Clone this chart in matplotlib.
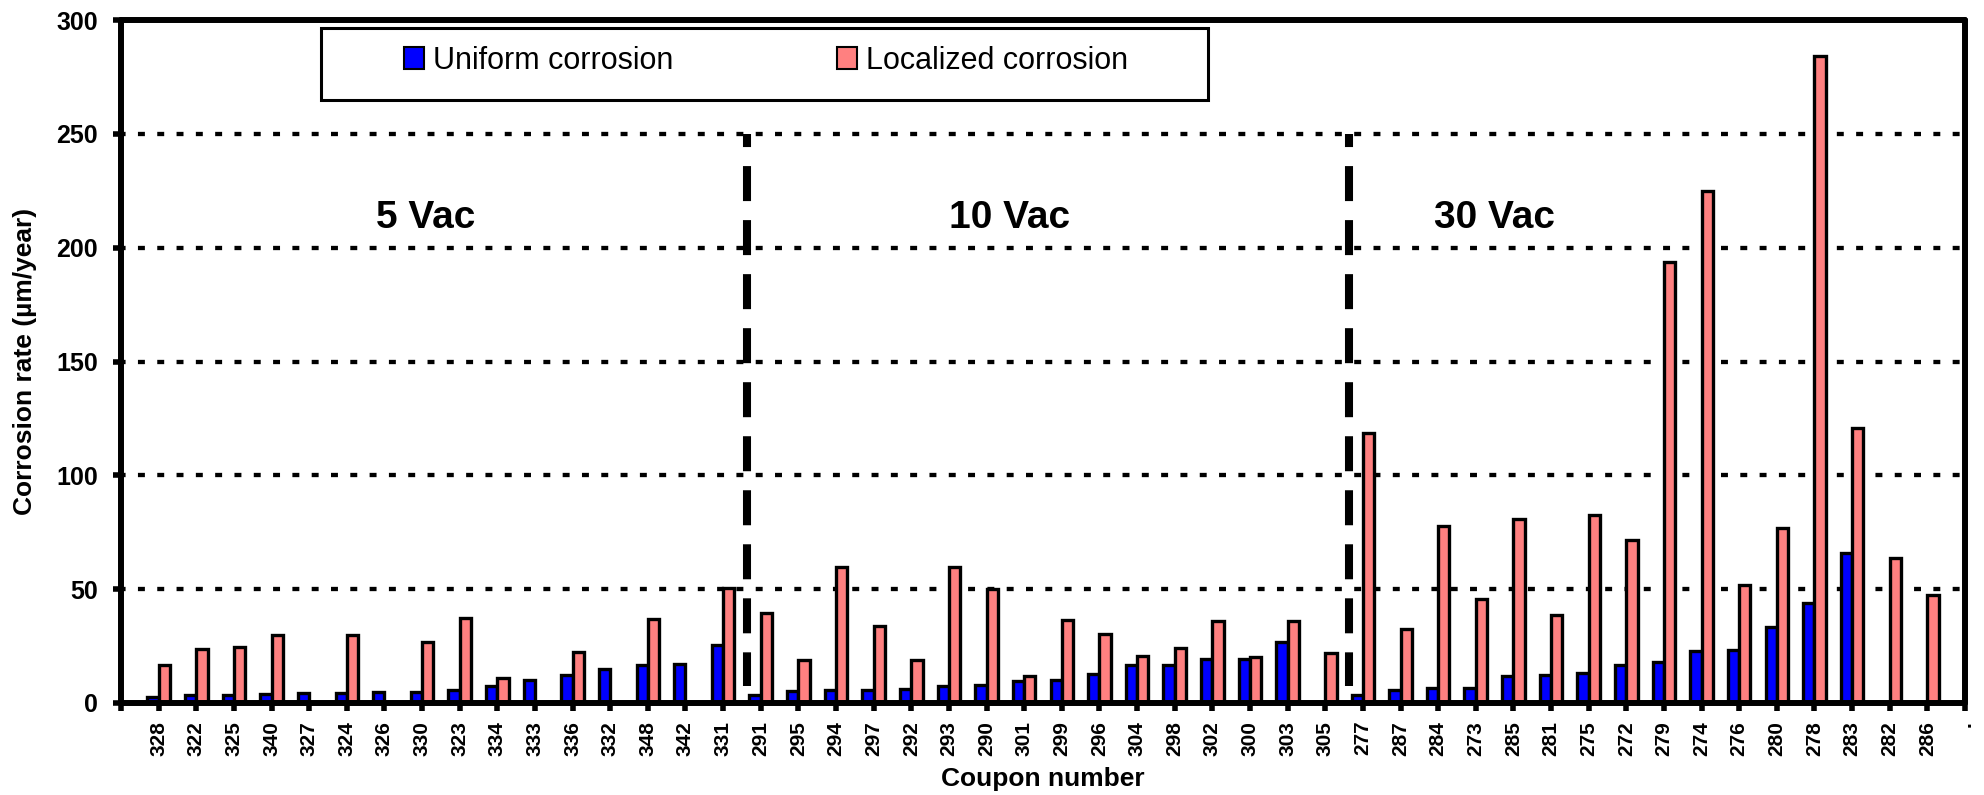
import numpy as np
import matplotlib
matplotlib.use("Agg")
import matplotlib.pyplot as plt
from matplotlib.patches import Rectangle, Patch

plt.rcParams["font.family"] = ["Liberation Sans", "DejaVu Sans"]
plt.rcParams["lines.scale_dashes"] = False

# Coupon numbers, grouped by applied AC voltage
coupons = [
    "328", "322", "325", "340", "327", "324", "326", "330",
    "323", "334", "333", "336", "332", "348", "342", "331",
    "291", "295", "294", "297", "292", "293", "290", "301",
    "299", "296", "304", "298", "302", "300", "303", "305",
    "277", "287", "284", "273", "285", "281", "275", "272",
    "279", "274", "276", "280", "278", "283", "282", "286",
]

nan = np.nan
# Corrosion rates in µm/year (nan = not measured)
uniform = [
    2.5, 3.5, 3.5, 4.0, 4.2, 4.5, 5.0, 5.0,
    5.5, 7.5, 10.3, 12.4, 15.0, 16.8, 17.2, 25.6,
    3.7, 5.3, 5.9, 5.9, 6.2, 7.3, 7.9, 9.5,
    10.0, 12.7, 16.5, 16.9, 19.3, 19.3, 26.9, nan,
    3.4, 5.7, 6.6, 6.7, 11.8, 12.1, 13.0, 16.5,
    18.1, 22.8, 23.2, 33.4, 43.8, 65.8, nan, nan,
]
localized = [
    16.8, 23.6, 24.6, 29.8, nan, 29.8, nan, 26.6,
    37.5, 10.8, nan, 22.6, nan, 36.8, nan, 50.6,
    39.4, 19.1, 59.8, 33.7, 19.1, 59.8, 50.2, 11.7,
    36.6, 30.4, 20.6, 24.2, 36.2, 20.2, 36.2, 21.9,
    118.6, 32.7, 77.6, 45.6, 80.8, 38.6, 82.7, 71.8,
    193.8, 224.8, 51.8, 76.7, 284.2, 120.7, 63.7, 47.4,
]

groups = ["5 Vac", "10 Vac", "30 Vac"]
group_label_x = [8.1, 23.6, 36.5]
group_label_y = 208.5
separators_x = [16.63, 32.63]

BLUE = "#0000FF"
PINK = "#FF8080"

W, H, DPI = 1984, 795, 100
fig = plt.figure(figsize=(W / DPI, H / DPI), dpi=DPI)
ax = fig.add_axes([121 / W, 1 - 703 / H, (1965 - 121) / W, (703 - 20) / H])

pos = np.arange(1, len(coupons) + 1)
bw = 0.3
ax.bar(pos - bw / 2, uniform, width=bw, color=BLUE, edgecolor="black",
       linewidth=2.4, zorder=2, label="Uniform corrosion")
ax.bar(pos + bw / 2, localized, width=bw, color=PINK, edgecolor="black",
       linewidth=2.4, zorder=2, label="Localized corrosion")

ax.set_xlim(0, len(coupons) + 1)
ax.set_ylim(0, 300)
ax.set_yticks(np.arange(0, 301, 50))
ax.set_xticks(np.arange(0, len(coupons) + 2))
ax.set_xticklabels([""] + coupons + ["."], rotation=90, fontsize=15,
                   fontweight="bold")
for lab in ax.get_yticklabels():
    lab.set_fontsize(18)
    lab.set_fontweight("bold")

ax.tick_params(axis="x", direction="out", length=5.8, width=4, pad=7,
               colors="black")
ax.tick_params(axis="y", direction="out", length=5.8, width=4, pad=11,
               colors="black")

# Dotted horizontal gridlines behind the bars
ax.set_axisbelow(True)
ax.grid(axis="y", color="black", linewidth=3.1,
        linestyle=(1.7, (5.0, 8.9)), dash_capstyle="butt")
ax.grid(axis="x", visible=False)

for sp in ax.spines.values():
    sp.set_linewidth(4.3)
    sp.set_color("black")
    sp.set_capstyle("round")
    sp.set_zorder(3)

# Dashed separators between voltage groups
for sx in separators_x:
    ax.plot([sx, sx], [250, 7.5], color="black", linewidth=5.8,
            linestyle=(15.8, (25.2, 13.7)), dash_capstyle="butt", zorder=2.2)

for gx, g in zip(group_label_x, groups):
    ax.text(gx, group_label_y, g, ha="center", va="baseline", fontsize=28,
            fontweight="bold")

ax.set_ylabel("Corrosion rate (µm/year)", fontsize=19, fontweight="bold")
ax.yaxis.set_label_coords(-0.0456, 0.5)
ax.set_xlabel("Coupon number", fontsize=19, fontweight="bold")
ax.xaxis.set_label_coords(0.5, -0.0937)

# Legend: entries spread across a boxed area at the top
fs_px = 22 * DPI / 72
handles = [Patch(facecolor=BLUE, edgecolor="black", linewidth=1.5),
           Patch(facecolor=PINK, edgecolor="black", linewidth=1.5)]
fig.legend(handles, ["Uniform corrosion", "Localized corrosion"],
           ncol=2, mode="expand", frameon=False, fontsize=22,
           loc="center", borderpad=0, borderaxespad=0,
           handlelength=20 / fs_px, handleheight=22 / fs_px,
           handletextpad=9 / fs_px,
           bbox_to_anchor=(404 / W, 1 - 64 / H, (1128 - 404) / W, 6 / H),
           bbox_transform=fig.transFigure)
fig.add_artist(Rectangle((321 / W, 1 - 100 / H), (1208 - 321) / W, 72 / H,
                         transform=fig.transFigure, facecolor="none",
                         edgecolor="black", linewidth=2.2))

fig.savefig("out.png", dpi=DPI)
